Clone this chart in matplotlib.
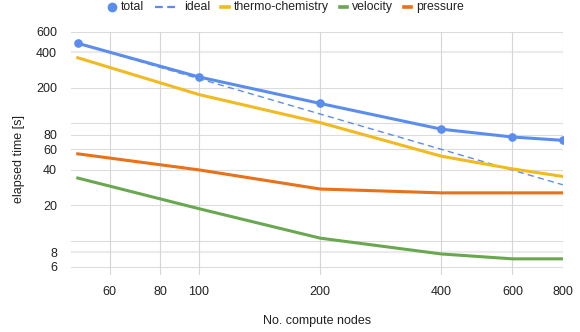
import matplotlib
matplotlib.use('Agg')
import matplotlib.pyplot as plt
from matplotlib.lines import Line2D
from matplotlib.offsetbox import DrawingArea, TextArea, HPacker, AnchoredOffsetbox

plt.rcParams['font.family'] = ['Liberation Sans', 'DejaVu Sans']

# ---- data ----
nodes = [50, 100, 200, 400, 600, 800]
total = [478, 247, 147, 88.8, 76.2, 71.4]
ideal = [478, 239, 119.5, 59.8, 39.8, 29.9]
thermo = [360, 175, 101, 52.3, 40.8, 35.2]
velocity = [34.1, 18.7, 10.5, 7.7, 7.0, 7.0]
pressure = [54.8, 40, 27.5, 25.5, 25.5, 25.5]

x_ticks = [60, 80, 100, 200, 400, 600, 800]
x_tick_labels = ['60', '80', '100', '200', '400', '600', '800']
y_ticks = [6, 8, 10, 20, 40, 60, 80, 100, 200, 400, 600]
y_tick_labels = ['6', '8', '', '20', '40', '60', '80', '', '200', '400', '600']

series_names = ['total', 'ideal', 'thermo-chemistry', 'velocity', 'pressure']
c_total = '#5B8DEF'
c_thermo = '#F1BA21'
c_vel = '#6AA84F'
c_pres = '#E8711A'

fig = plt.figure(figsize=(5.8, 3.32), dpi=100)
ax = fig.add_axes([71 / 580, 1 - 275 / 332, (562.7 - 71) / 580, (275 - 31.7) / 332])
ax.set_xscale('log')
ax.set_yscale('log')
ax.set_xlim(48.1, 800)
ax.set_ylim(5.1, 600)

# gridlines
for v in y_ticks:
    if v in (8, 400):
        ax.axhline(v, color='#ebebeb', lw=1.6, zorder=0)
    else:
        ax.axhline(v, color='#dcdcdc', lw=0.8, zorder=0)
for v in x_ticks:
    ax.axvline(v, color='#d6d6d6', lw=0.8, zorder=0)

ax.plot(nodes, total, color=c_total, lw=2.2, marker='o', ms=5.2, zorder=3,
        solid_capstyle='butt')
ax.plot(nodes, ideal, color=c_total, lw=1.0, dashes=(4.5, 3), zorder=4)
ax.plot(nodes, thermo, color=c_thermo, lw=2.2, zorder=5)
ax.plot(nodes, velocity, color=c_vel, lw=2.2, zorder=6)
ax.plot(nodes, pressure, color=c_pres, lw=2.2, zorder=7)

ax.set_xticks(x_ticks)
ax.set_xticklabels(x_tick_labels)
ax.set_yticks(y_ticks)
ax.set_yticklabels(y_tick_labels)
ax.minorticks_off()
ax.tick_params(axis='both', length=0, labelsize=9, colors='#222222')
ax.tick_params(axis='y', pad=10)
ax.tick_params(axis='x', pad=8)
for s in ax.spines.values():
    s.set_visible(False)

ax.set_xlabel('No. compute nodes', fontsize=9, color='#222222', labelpad=12.5)
ax.set_ylabel('elapsed time [s]', fontsize=9, color='#222222')
ax.yaxis.set_label_coords(-0.094, 0.477)

# ---- legend ----
px = 0.72  # points per pixel at 100 dpi
def handle(kind, color, w):
    da = DrawingArea(w * px, 8 * px, 0, 0)
    if kind == 'marker':
        da.add_artist(Line2D([w * px / 2], [4 * px], marker='o', ms=6, color=color, lw=0))
    elif kind == 'dash':
        da.add_artist(Line2D([0, w * px], [4 * px, 4 * px], color=color, lw=1.6, dashes=(3.5, 2)))
    else:
        da.add_artist(Line2D([0, w * px], [4 * px, 4 * px], color=color, lw=2.6))
    return da

items = [('marker', c_total, 8), ('dash', c_total, 24), ('line', c_thermo, 8),
         ('line', c_vel, 7), ('line', c_pres, 7)]
boxes = []
for (kind, col, w), name in zip(items, series_names):
    t = TextArea(name, textprops=dict(fontsize=8.8, color='#222222'))
    boxes.append(HPacker(children=[handle(kind, col, w), t], sep=5 * px, align='center'))
leg = HPacker(children=boxes, sep=11 * px, align='center')
ab = AnchoredOffsetbox(loc='center', child=leg, frameon=False, pad=0, borderpad=0,
                       bbox_to_anchor=(286 / 580, 1 - 7 / 332), bbox_transform=fig.transFigure)
fig.add_artist(ab)

fig.savefig('out.png', dpi=100)
